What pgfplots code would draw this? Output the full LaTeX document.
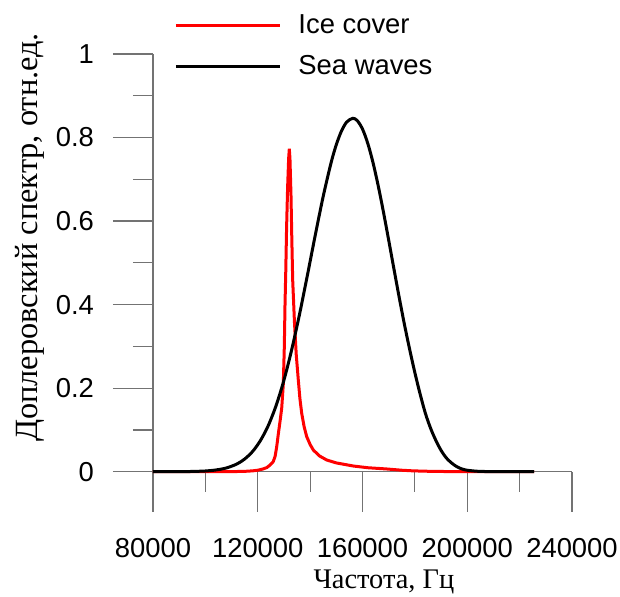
\documentclass[border=0pt]{standalone}
\usepackage{fontspec}
\setmainfont{Liberation Sans}
\newfontfamily\serifcyr{Liberation Serif}
\usepackage{pgfplots}
\pgfplotsset{compat=1.18}
\begin{document}
\begin{tikzpicture}
\begin{axis}[
  at={(0,0)}, anchor=south west,
  scale only axis, width=209.5pt, height=208.85pt,
  xmin=80000, xmax=240000, ymin=0, ymax=1,
  axis x line*=bottom, axis y line*=left,
  axis line style={black!55, line width=0.6pt},
  xtick={80000,120000,160000,200000,240000},
  xticklabels={80000,120000,160000,200000,240000},
  minor xtick={100000,140000,180000,220000},
  ytick={0,0.2,0.4,0.6,0.8,1},
  yticklabels={0,0.2,0.4,0.6,0.8,1},
  minor ytick={0.1,0.3,0.5,0.7,0.9},
  tick align=outside,
  major tick length=20pt, minor tick length=10pt,
  tick style={black!55, line width=0.6pt},
  ticklabel style={font=\fontsize{13.7}{16}\selectfont},
  xticklabel style={yshift=-10pt},
  yticklabel style={xshift=-6pt},
  scaled x ticks=false,
  /pgf/number format/assume math mode=true,
  clip=false,
  xlabel={\serifcyr Частота, Гц},
  xlabel style={at={(axis description cs:0.551,0)}, anchor=base, yshift=-58.5pt, font=\fontsize{14.2}{16}\selectfont},
  ylabel={\serifcyr Доплеровский спектр, отн.ед.},
  ylabel style={at={(axis description cs:-0.2745,0.5607)}, anchor=base, rotate=0, font=\fontsize{16.2}{18}\selectfont},
  legend style={draw=none, fill=none, at={(axis description cs:0.0502,1.0191)}, anchor=west,
    font=\fontsize{13.7}{16}\selectfont, row sep=5.5pt, inner sep=0pt},
  legend cell align=left,
  legend image code/.code={\draw[#1] (0pt,0pt) -- (52pt,0pt); \path (58.5pt,0pt);},
]
\addplot[red, line width=1.5pt] coordinates {
(80000,0) (100000,0) (110000,0.0002) (115000,0.0008) (118000,0.002) (120000,0.0035)
(122000,0.0065) (123500,0.010) (124700,0.016) (125900,0.024) (126600,0.036) (127200,0.058)
(127850,0.090) (128500,0.12) (129150,0.152) (129760,0.21) (130150,0.30) (130410,0.40)
(130700,0.48) (131000,0.58) (131400,0.68) (131800,0.75) (132050,0.773) (132300,0.75)
(132700,0.66) (133000,0.56) (133340,0.459) (134000,0.36) (134700,0.28) (135480,0.22)
(136100,0.175) (136780,0.14) (137700,0.108) (138690,0.084) (140000,0.065) (141210,0.052)
(143500,0.038) (146330,0.028) (150000,0.021) (156490,0.0136) (162000,0.0095) (169240,0.0065)
(175000,0.0035) (179280,0.002) (185000,0.001) (190000,0.0005) (200000,0.0001) (225500,0)
};
\addlegendentry{Ice cover}
\addplot[black, line width=1.5pt, smooth] coordinates {
(80000,0) (85000,0.00003) (90000,0.00016) (95000,0.00055) (100000,0.0017) (104000,0.0041)
(108000,0.0089) (112000,0.0183) (115000,0.0303) (118000,0.0482) (121000,0.0743) (124000,0.1102)
(127000,0.1582) (130000,0.2191) (133000,0.2931) (136000,0.3782) (139000,0.4716) (142000,0.5674)
(145000,0.6593) (148000,0.7395) (150000,0.7829) (152000,0.8160) (154000,0.8373) (156300,0.846)
(158000,0.8405) (160000,0.8203) (162000,0.7863) (164000,0.7403) (166000,0.6844) (168000,0.6216)
(170000,0.5543) (172000,0.4856) (174000,0.4177) (176000,0.3530) (178000,0.2930) (180000,0.2370)
(182000,0.1860) (184000,0.1400) (186000,0.1040) (188000,0.0750) (190000,0.0510) (192000,0.0330)
(194000,0.0210) (196000,0.0120) (198000,0.0065) (200000,0.0035) (204000,0.0010) (210000,0.0002)
(225500,0)
};
\addlegendentry{Sea waves}
\end{axis}
\pgfresetboundingbox
\path[use as bounding box] (-76.5pt,-62.65pt) rectangle (233.5pt,235.85pt);
\end{tikzpicture}
\end{document}
